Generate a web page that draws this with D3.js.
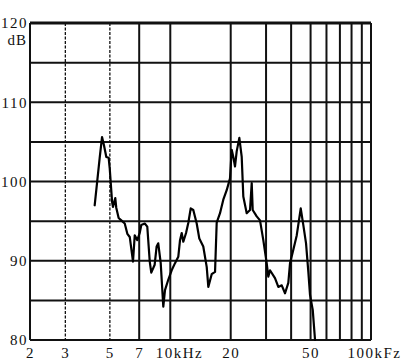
<!DOCTYPE html>
<html>
<head>
<meta charset="utf-8">
<script src="https://cdn.jsdelivr.net/npm/d3@7"></script>
<style>
  body { margin: 0; background: #fff; }
  svg { display: block; }
  .tick text { font-family: "Liberation Serif", serif; font-size: 15px; letter-spacing: 1.5px; fill: #111; }
</style>
</head>
<body>
<div id="chart"></div>
<script>
const width = 406;
const height = 364;

// frequency in kHz, level in dB
const freqs = [4.20, 4.45, 4.57, 4.67, 4.80, 4.93, 4.99, 5.13, 5.18, 5.32, 5.38, 5.53, 5.70, 5.93, 6.11, 6.28,
  6.52, 6.65, 6.85, 7.04, 7.17, 7.46, 7.68, 7.90, 8.04, 8.36, 8.55, 8.71, 8.96, 9.23, 9.41, 9.77,
  10.16, 10.56, 10.96, 11.18, 11.40, 11.61, 11.98, 12.30, 12.64, 13.02, 13.54, 13.95, 14.60, 15.19,
  15.47, 16.08, 16.71, 17.03, 17.69, 18.37, 19.10, 19.84, 20.23, 20.61, 21.01, 21.42, 22.08, 22.69,
  23.11, 24.03, 24.96, 25.45, 25.74, 26.95, 27.99, 29.07, 30.22, 30.78, 31.39, 33.24, 34.53, 35.91,
  37.30, 38.73, 39.50, 41.02, 42.65, 44.66, 46.01, 47.46, 48.73, 49.68, 51.25, 52.62];
const levels = [97.0, 103.0, 105.6, 104.6, 103.1, 103.0, 101.7, 97.4, 96.8, 97.9, 96.7, 95.4, 95.1, 94.7, 93.4, 93.0,
  89.9, 93.2, 92.6, 93.5, 94.5, 94.7, 94.3, 89.9, 88.5, 89.5, 91.8, 92.2, 89.7, 84.2, 86.3, 87.6,
  88.8, 89.7, 90.5, 92.6, 93.5, 92.4, 93.5, 94.8, 96.6, 96.4, 94.7, 92.8, 91.8, 89.2,
  86.7, 88.3, 88.6, 94.8, 96.0, 97.7, 98.9, 100.4, 104.0, 103.1, 101.9, 103.8, 105.5, 103.1,
  98.1, 96.0, 96.4, 99.8, 96.4, 95.6, 95.1, 92.6, 89.7, 88.0, 88.8, 87.8, 86.7, 86.9,
  85.9, 87.2, 89.7, 91.4, 93.2, 96.6, 94.5, 92.2, 88.6, 85.7, 83.8, 80.0];

const gridFreqs = [2, 3, 5, 7, 10, 20, 30, 40, 50, 60, 70, 80, 90, 100];
const dashedFreqs = [3, 5];
const gridLevels = [80, 85, 90, 95, 100, 105, 110, 115, 120];
const xTickValues = [2, 3, 5, 7, 10, 20, 50, 100];
const xTickTexts = ["2", "3", "5", "7", "10kHz", "20", "50", "100kFz"];
const yTickValues = [80, 90, 100, 110, 120];

const svg = d3.select("#chart").append("svg")
    .attr("width", width)
    .attr("height", height);

const x = d3.scaleLog().domain([2, 100]).range([30, 371]);
const y = d3.scaleLinear().domain([80, 120]).range([340, 23]);

// horizontal grid
svg.append("g")
    .selectAll("line")
    .data(gridLevels)
    .enter()
    .append("line")
    .attr("x1", x(2))
    .attr("x2", x(100))
    .attr("y1", d => y(d))
    .attr("y2", d => y(d))
    .attr("stroke", "#111")
    .attr("stroke-width", d => d == 120 ? 3 : 2);

// vertical grid, 3 and 5 kHz drawn dotted
svg.append("g")
    .selectAll("line")
    .data(gridFreqs)
    .enter()
    .append("line")
    .attr("x1", d => x(d))
    .attr("x2", d => x(d))
    .attr("y1", y(120))
    .attr("y2", y(80))
    .attr("stroke", "#111")
    .attr("stroke-width", d => dashedFreqs.includes(d) ? 1.3 : 2)
    .attr("stroke-dasharray", d => dashedFreqs.includes(d) ? "3,1.5" : null);

const xAxis = d3.axisBottom(x)
    .tickValues(xTickValues)
    .tickFormat((d, i) => xTickTexts[i])
    .tickSize(0)
    .tickPadding(7);

const gx = svg.append("g")
    .attr("transform", "translate(0," + y(80) + ")")
    .call(xAxis);
gx.select(".domain").remove();
gx.selectAll(".tick text").each(function(d) {
    if (d == 10) d3.select(this).attr("text-anchor", "start").attr("x", -15);
    if (d == 100) d3.select(this).attr("text-anchor", "start").attr("x", -24);
});

const yAxis = d3.axisLeft(y)
    .tickValues(yTickValues)
    .tickSize(0)
    .tickPadding(2);

const gy = svg.append("g")
    .attr("transform", "translate(" + x(2) + ",0)")
    .call(yAxis);
gy.select(".domain").remove();

svg.append("text")
    .attr("x", 27)
    .attr("y", y(120) + 22)
    .attr("text-anchor", "end")
    .style("font-family", "Liberation Serif, serif")
    .style("font-size", "15px")
    .style("letter-spacing", "1px")
    .attr("fill", "#111")
    .text("dB");

const line = d3.line()
    .x(function(d, i) { return x(freqs[i]); })
    .y(function(d) { return y(d); });

svg.append("path")
    .datum(levels)
    .attr("d", line)
    .attr("fill", "none")
    .attr("stroke", "#000")
    .attr("stroke-width", 2.2)
    .attr("stroke-linejoin", "round")
    .attr("stroke-linecap", "round");
</script>
</body>
</html>
